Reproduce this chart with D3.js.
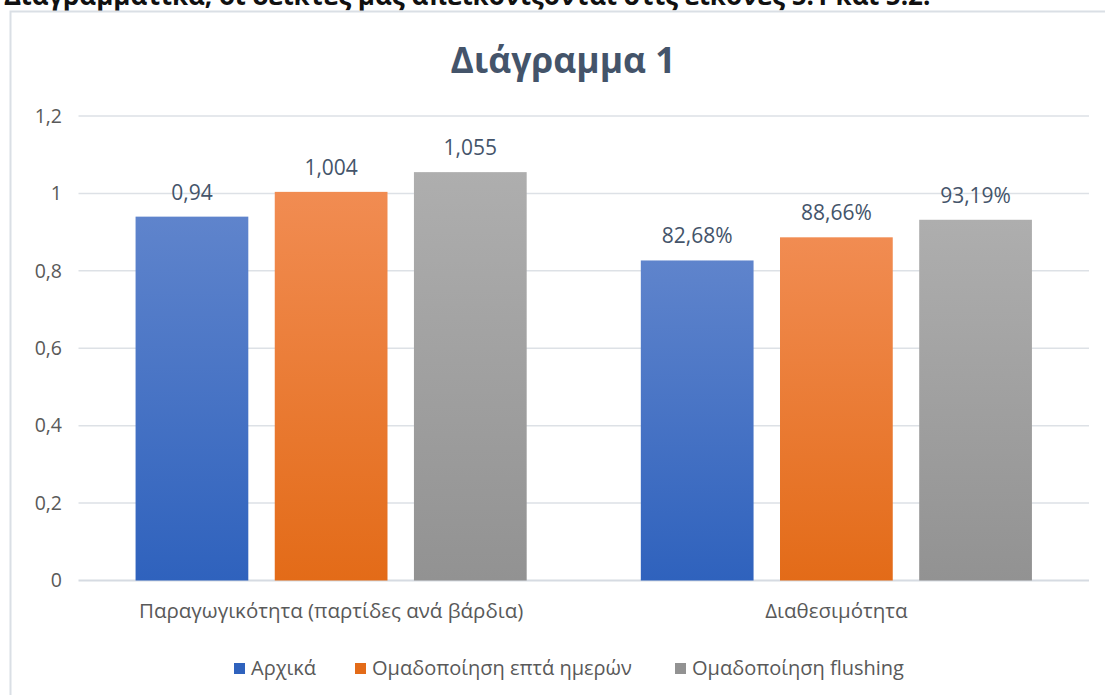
<!DOCTYPE html>
<html>
<head>
<meta charset="utf-8">
<script src="https://cdn.jsdelivr.net/npm/d3@7"></script>
<style>
  html, body { margin: 0; padding: 0; background: #fff; overflow: hidden; }
  svg { display: block; font-family: "Open Sans", "Noto Sans", sans-serif; }
</style>
</head>
<body>
<div id="chart"></div>
<script>
// data
var categories = ["Παραγωγικότητα (παρτίδες ανά βάρδια)", "Διαθεσιμότητα"];
var seriesNames = ["Αρχικά", "Ομαδοποίηση επτά ημερών", "Ομαδοποίηση flushing"];
var initialValues = [0.94, 0.8268];
var sevenDayValues = [1.004, 0.8866];
var flushingValues = [1.055, 0.9319];
var valueLabels = [["0,94", "1,004", "1,055"], ["82,68%", "88,66%", "93,19%"]];
var yTicks = [0, 0.2, 0.4, 0.6, 0.8, 1, 1.2];

var seriesValues = [initialValues, sevenDayValues, flushingValues];

// graph specs
var width = 1105;
var height = 695;
var plot = {left: 78.5, right: 1089, top: 116, bottom: 580.5};
var colors = [
  {top: "#5f84cc", bottom: "#2f62bd"},
  {top: "#f18c52", bottom: "#e36b18"},
  {top: "#aeaeae", bottom: "#929292"}
];

var svg = d3.select("#chart").append("svg").attr("width", width).attr("height", height);

// gradients for bars
var defs = svg.append("defs");
colors.forEach(function(c, i) {
  var g = defs.append("linearGradient").attr("id", "grad" + i)
    .attr("x1", 0).attr("y1", 0).attr("x2", 0).attr("y2", 1);
  g.append("stop").attr("offset", "0%").attr("stop-color", c.top);
  g.append("stop").attr("offset", "100%").attr("stop-color", c.bottom);
});

// surrounding text line (cut off at top, like the page it came from)
svg.append("text")
  .text("Διαγραμματικά, οι δείκτες μας απεικονίζονται στις εικόνες 5.1 και 5.2.")
  .attr("x", 4).attr("y", 5)
  .style("font-size", "26px").style("font-weight", "bold").style("fill", "#111");

// chart frame
svg.append("rect")
  .attr("x", 10.5).attr("y", 11.5)
  .attr("width", 1200).attr("height", 800)
  .attr("fill", "#fff").attr("stroke", "#dadfe5").attr("stroke-width", 2);

// scales
var x0 = d3.scaleBand().domain(categories).range([plot.left, plot.right]);
var x1 = d3.scaleBand().domain(d3.range(seriesNames.length))
  .range([0, x0.bandwidth()]).paddingInner(0.19).paddingOuter(0.41);
var y = d3.scaleLinear().domain([0, 1.2]).range([plot.bottom, plot.top]);

// grid lines
svg.append("g").selectAll("line").data(yTicks).enter().append("line")
  .attr("x1", plot.left).attr("x2", plot.right)
  .attr("y1", function(d) { return y(d); })
  .attr("y2", function(d) { return y(d); })
  .attr("stroke", function(d) { return d === 0 ? "#d6dbe2" : "#dde1e6"; })
  .attr("stroke-width", function(d) { return d === 0 ? 2 : 1.5; });

// y axis labels
var yaxis = d3.axisLeft(y).tickValues(yTicks).tickSize(0).tickPadding(0)
  .tickFormat(function(d) { return String(d).replace(".", ","); });
var ya = svg.append("g")
  .attr("transform", "translate(" + 62 + ",0)")
  .call(yaxis);
ya.select(".domain").remove();
ya.selectAll("text").style("font-size", "19.5px").style("fill", "#595959")
  .style("font-family", "'Open Sans', sans-serif");

// bars
var groups = svg.append("g").selectAll("g").data(categories).enter().append("g")
  .attr("transform", function(d) { return "translate(" + x0(d) + ",0)"; });

groups.selectAll("rect").data(function(d, ci) {
    return seriesValues.map(function(s, si) { return {si: si, ci: ci, v: s[ci]}; });
  }).enter().append("rect")
  .attr("x", function(d) { return x1(d.si); })
  .attr("y", function(d) { return y(d.v); })
  .attr("width", x1.bandwidth())
  .attr("height", function(d) { return y(0) - y(d.v); })
  .attr("fill", function(d) { return "url(#grad" + d.si + ")"; });

// data labels
groups.selectAll("text.val").data(function(d, ci) {
    return seriesValues.map(function(s, si) { return {si: si, ci: ci, v: s[ci]}; });
  }).enter().append("text")
  .attr("class", "val")
  .attr("x", function(d) { return x1(d.si) + x1.bandwidth() / 2; })
  .attr("y", function(d) { return y(d.v) - 17; })
  .attr("text-anchor", "middle")
  .style("font-size", "21px").style("fill", "#44546a")
  .text(function(d) { return valueLabels[d.ci][d.si]; });

// x axis labels
var xaxis = d3.axisBottom(x0).tickSize(0).tickPadding(0);
var xa = svg.append("g")
  .attr("transform", "translate(0," + 603 + ")")
  .call(xaxis);
xa.select(".domain").remove();
xa.selectAll("text").style("font-size", "20.5px").style("fill", "#595959")
  .style("font-family", "'Open Sans', sans-serif");

// title
svg.append("text")
  .text("Διάγραμμα 1")
  .attr("x", 563).attr("y", 73)
  .attr("text-anchor", "middle")
  .style("font-size", "35.5px").style("font-weight", "bold").style("fill", "#44546a");

// legend
var legendX = [234, 355, 675];
var legend = svg.append("g").selectAll("g").data(seriesNames).enter().append("g")
  .attr("transform", function(d, i) { return "translate(" + legendX[i] + ",663)"; });
legend.append("rect")
  .attr("width", 11).attr("height", 11)
  .attr("fill", function(d, i) { return colors[i].bottom; });
legend.append("text")
  .attr("x", 17).attr("y", 12)
  .style("font-size", "20px").style("fill", "#595959")
  .text(function(d) { return d; });
</script>
</body>
</html>
